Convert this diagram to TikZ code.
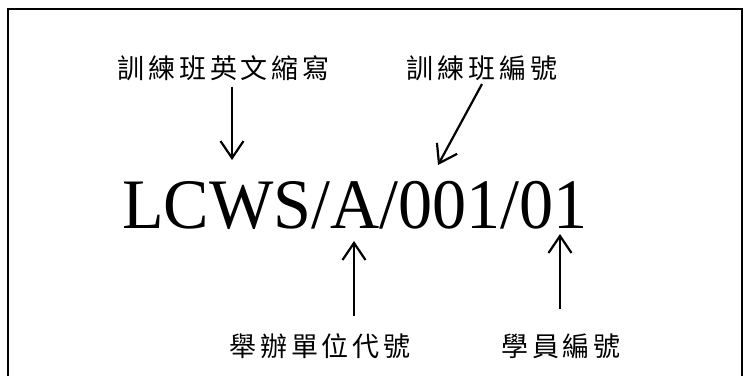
\documentclass[tikz,border=0pt]{standalone}
\usepackage{graphicx}
\usepackage{fontspec}
\setmainfont{Liberation Serif}
\newfontfamily\cjk[LetterSpace=14]{Noto Sans CJK TC}
\usetikzlibrary{arrows.meta}
\tikzset{
  lbl/.style={font=\cjk\fontsize{27}{29}\selectfont, inner sep=0pt, anchor=base},
  ptr/.style={line width=2.2pt, -{Straight Barb[length=17pt,width=23pt,line width=2.2pt]}}
}
\begin{document}
\begin{tikzpicture}[x=1pt,y=-1pt]
\useasboundingbox (0,0) rectangle (749,376);
\draw[line width=2pt] (8,376) -- (8,9) -- (742,9) -- (742,376);
% code string
\node[anchor=base, inner sep=0pt, font=\fontsize{71}{78}\selectfont] (code) at (355,228) {\scalebox{0.96}[1]{LCWS/A/001/01}};
% labels
\node[lbl] (abbr) at (223.5,78) {訓練班英文縮寫};
\node[lbl] (classno) at (482,78) {訓練班編號};
\node[lbl] (unit) at (320,356) {舉辦單位代號};
\node[lbl] (student) at (561,356) {學員編號};
% arrow ends
\coordinate (abbrtip) at (232,160);
\coordinate (classtail) at (482,84);
\coordinate (classtip) at (438,165);
\coordinate (unittail) at (354,316);
\coordinate (unittip) at (354,241);
\coordinate (studtail) at (560,309);
\coordinate (studtip) at (560,234);
\draw[ptr, shorten <=6pt] (abbr.south -| abbrtip) -- (abbrtip);
\draw[ptr] (classtail) -- (classtip);
\draw[ptr] (unittail) -- (unittip);
\draw[ptr] (studtail) -- (studtip);
\end{tikzpicture}
\end{document}
